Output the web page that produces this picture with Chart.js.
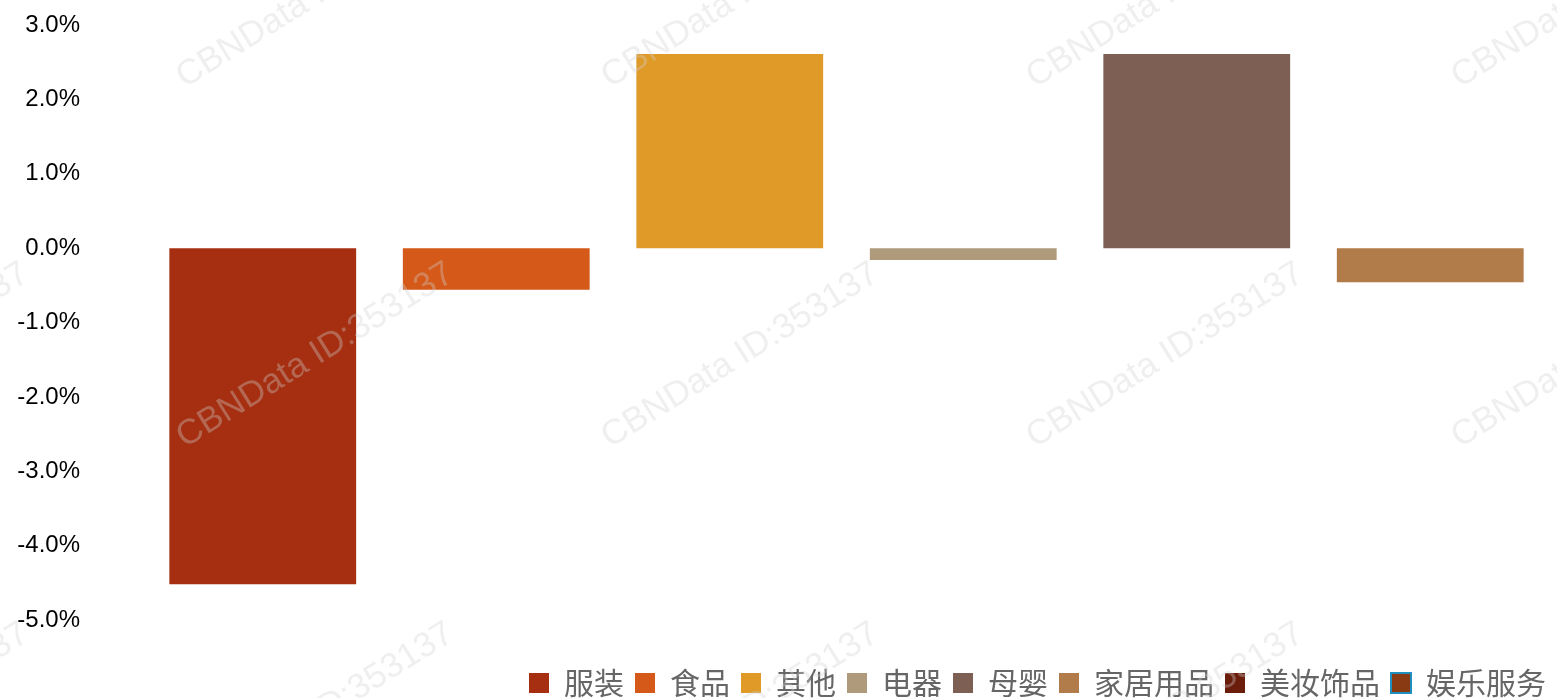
<!DOCTYPE html>
<html>
<head>
<meta charset="utf-8">
<script src="https://cdn.jsdelivr.net/npm/chart.js@4"></script>
<style>
  html, body { margin: 0; padding: 0; background: #fff; }
  #wrap { width: 1557px; height: 698px; }
</style>
</head>
<body>
<div id="wrap"><canvas id="chart"></canvas></div>
<script>
// categories drawn as bars
const categories = ["服装", "食品", "其他", "电器", "母婴", "家居用品"];
const values = [-4.52, -0.56, 2.61, -0.16, 2.61, -0.46];
const barColors = ["#A52F10", "#D55919", "#E09A28", "#B09A7C", "#7D6053", "#B17C49"];

// legend entries (the last two have no bar)
const legendNames = ["服装", "食品", "其他", "电器", "母婴", "家居用品", "美妆饰品", "娱乐服务"];
const legendColors = ["#A52F10", "#D55919", "#E09A28", "#B09A7C", "#7D6053", "#B17C49", "#6B1D0C", "#8A3A12"];
const legendBorders = [null, null, null, null, null, null, null, "#1F8FC0"];

const yTicks = [3, 2, 1, 0, -1, -2, -3, -4, -5];

const watermark = {
  id: "watermark",
  afterDraw(chart) {
    const ctx = chart.ctx;
    ctx.save();
    ctx.fillStyle = "rgba(210,210,210,0.35)";
    ctx.font = "35px 'Liberation Sans', Arial, sans-serif";
    for (let col = -1; col < 4; col++) {
      for (let row = 0; row < 3; row++) {
        ctx.save();
        ctx.translate(180 + col * 425, 80 + row * 360);
        ctx.rotate(-32 * Math.PI / 180);
        ctx.fillText("CBNData ID:353137", 0, 0);
        ctx.restore();
      }
    }
    ctx.restore();
  }
};

const ctx = document.getElementById("chart").getContext("2d");
new Chart(ctx, {
  type: "bar",
  data: {
    labels: categories,
    datasets: [{
      data: values,
      backgroundColor: barColors,
      borderWidth: 0,
      categoryPercentage: 1,
      barPercentage: 0.8
    }]
  },
  options: {
    responsive: true,
    maintainAspectRatio: false,
    animation: false,
    layout: { padding: { top: 25, right: 0, left: 0, bottom: 0 } },
    plugins: {
      tooltip: { enabled: false },
      legend: {
        position: "bottom",
        align: "end",
        maxHeight: 78,
        onClick: null,
        // empty title only pushes the legend row down
        title: { display: true, text: "", padding: { top: 25, bottom: 0 }, font: { size: 10 } },
        labels: {
          boxWidth: 20,
          boxHeight: 20,
          padding: 11,
          color: "#595959",
          font: { size: 30, family: "'Noto Sans CJK SC', sans-serif" },
          generateLabels: () => legendNames.map((name, i) => ({
            text: name,
            fillStyle: legendColors[i],
            strokeStyle: legendBorders[i] || legendColors[i],
            lineWidth: legendBorders[i] ? 2 : 0,
            hidden: false,
            index: i
          }))
        }
      }
    },
    scales: {
      x: {
        grid: { display: false, drawTicks: false },
        border: { display: false },
        ticks: { display: false },
        afterFit: (scale) => { scale.height = 0; scale.paddingRight = 10; scale.paddingLeft = 0; }
      },
      y: {
        min: -5,
        max: 3,
        afterFit: (scale) => { scale.width = 146; scale.paddingTop = 12; scale.paddingBottom = 12; },
        afterBuildTicks: (scale) => { scale.ticks = yTicks.map(v => ({ value: v })); },
        grid: { display: false, drawTicks: false },
        border: { display: false },
        ticks: {
          padding: 66,
          color: "#000",
          font: { size: 24, family: "'Liberation Sans', Arial, sans-serif" },
          callback: (v) => v.toFixed(1) + "%"
        }
      }
    }
  },
  plugins: [watermark]
});
</script>
</body>
</html>
